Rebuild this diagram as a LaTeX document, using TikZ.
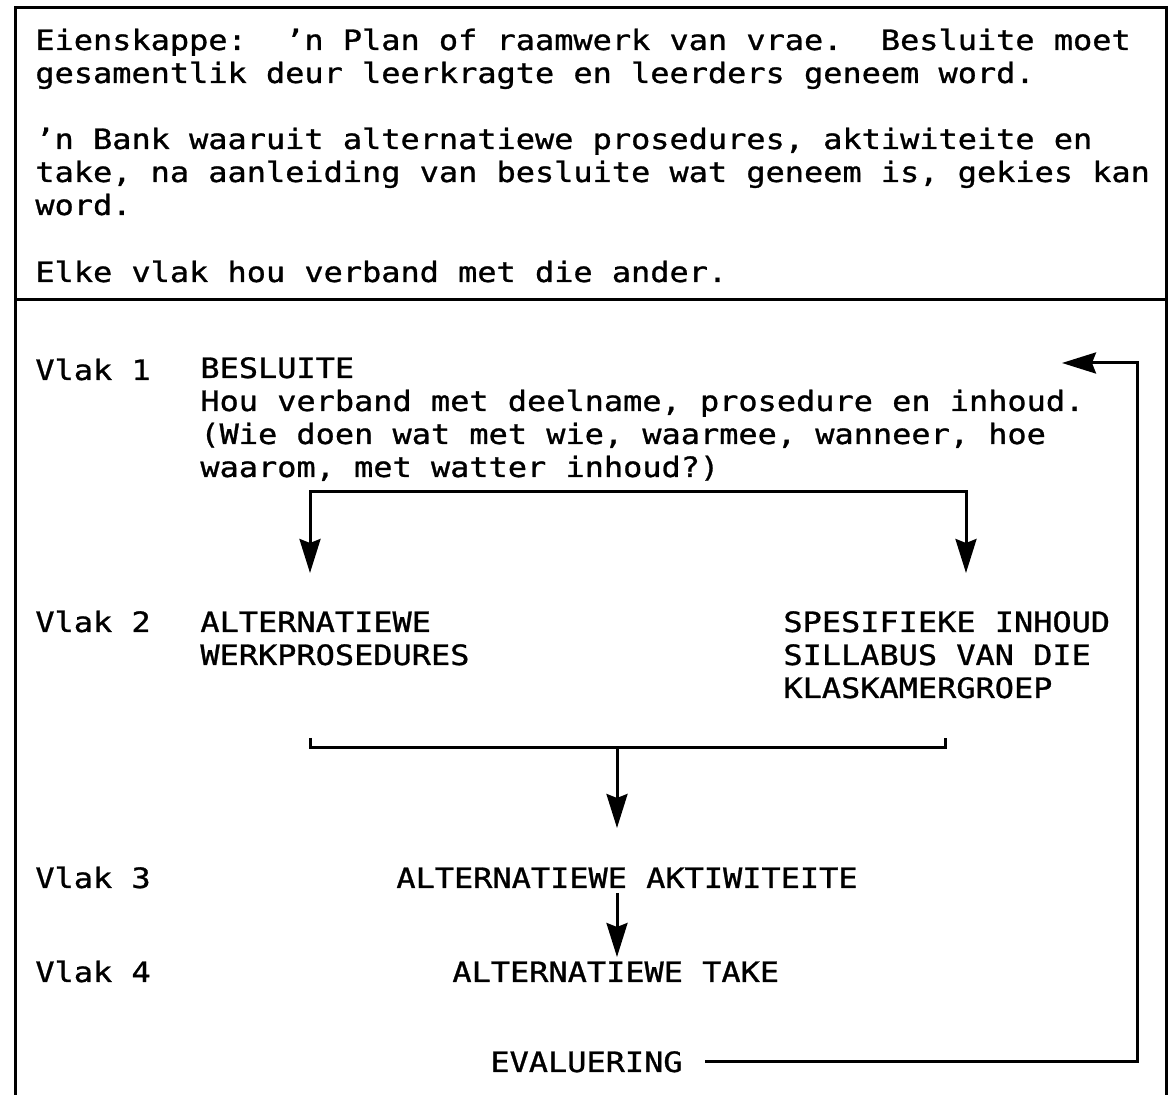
\documentclass[tikz,border=0pt]{standalone}
\usepackage{fontspec}
\newfontfamily\mono[FakeStretch=1.14,FakeBold=1]{DejaVu Sans Mono}
\usetikzlibrary{arrows.meta}
\tikzset{
  txt/.style={anchor=base west, inner sep=0pt, align=left,
    font=\mono\fontsize{14}{16.5}\selectfont},
  line/.style={line width=1.5pt},
  arr/.style={line width=1.5pt, -{Stealth[length=17pt,width=10.5pt,inset=2pt]}},
  barr/.style={line width=1.5pt, {Stealth[length=17pt,width=10.5pt,inset=2pt]}-{Stealth[length=17pt,width=10.5pt,inset=2pt]}}
}
\begin{document}
\begin{tikzpicture}[x=0.5pt,y=-0.5pt]
\clip (0,0) rectangle (1169,1095);
\fill[white] (0,0) rectangle (1169,1095);
% frame
\draw[line] (15,8) rectangle (1166,1130);
\draw[line] (15,300) -- (1166,300);
% top text (nodes anchored at the baseline of their last line)
\node[txt] (p1) at (35,83) {Eienskappe:\ \ ’n Plan of raamwerk van vrae.\ \ Besluite moet\\gesamentlik deur leerkragte en leerders geneem word.};
\node[txt] (p2) at (35,215) {’n Bank waaruit alternatiewe prosedures, aktiwiteite en\\take, na aanleiding van besluite wat geneem is, gekies kan\\word.};
\node[txt] (p3) at (35,282) {Elke vlak hou verband met die ander.};
% levels
\node[txt] (v1) at (35,380) {Vlak 1};
\node[txt] (v2) at (35,632) {Vlak 2};
\node[txt] (v3) at (35,888) {Vlak 3};
\node[txt] (v4) at (35,982) {Vlak 4};
\node[txt] (bes) at (200,477) {BESLUITE\\Hou verband met deelname, prosedure en inhoud.\\(Wie doen wat met wie, waarmee, wanneer, hoe\\waarom, met watter inhoud?)};
\node[txt] (alt) at (200,665) {ALTERNATIEWE\\WERKPROSEDURES};
\node[txt] (spe) at (783,698) {SPESIFIEKE INHOUD\\SILLABUS VAN DIE\\KLASKAMERGROEP};
\node[txt] (akt) at (396,888) {ALTERNATIEWE AKTIWITEITE};
\node[txt] (tak) at (452,982) {ALTERNATIEWE TAKE};
\node[txt] (eva) at (490,1072) {EVALUERING};
% connectors
\coordinate (tipL) at (310,573);
\coordinate (forkR) at (966,492);
\coordinate (tipR) at (966,573);
\draw[barr] (tipL) |- (forkR) -- (tipR);
\coordinate (brL) at (310,738);
\coordinate (brR) at (945,738);
\coordinate (brM) at (617,748);
\coordinate (tip2) at (617,828);
\draw[line] (brL) -- (310,748) -- (945,748) -- (brR);
\draw[arr] (brM) -- (tip2);
\coordinate (a3) at (617,893);
\coordinate (tip3) at (617,957);
\draw[arr] (a3) -- (tip3);
\coordinate (evs) at (705,1062);
\coordinate (fbc) at (1137,363);
\coordinate (fbtip) at (1062,363);
\draw[arr] (evs) -| (fbc) -- (fbtip);
\end{tikzpicture}
\end{document}
